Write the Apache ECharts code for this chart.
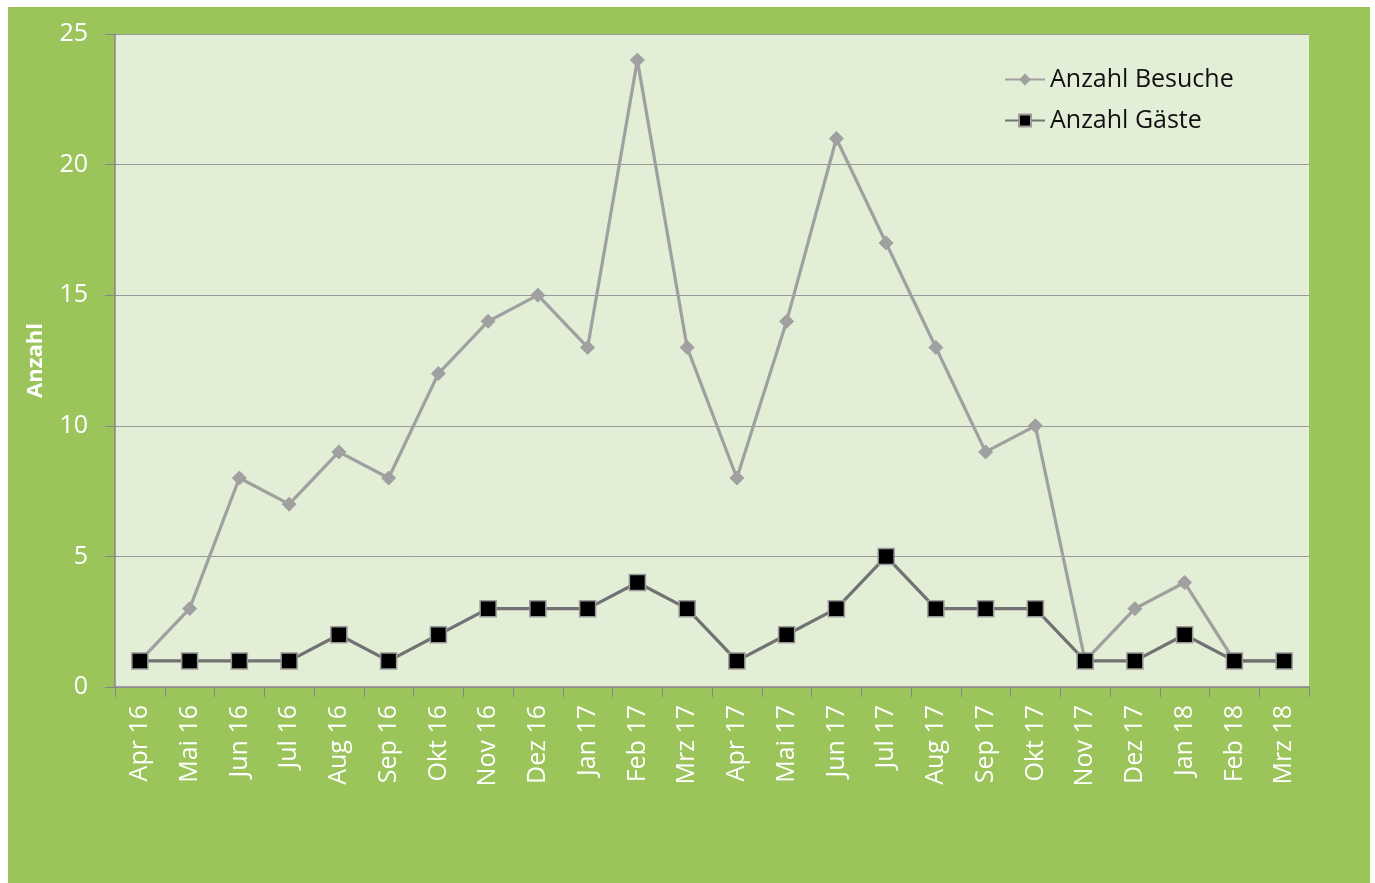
<!DOCTYPE html>
<html>
<head>
<meta charset="utf-8">
<script src="https://cdn.jsdelivr.net/npm/echarts@6/dist/echarts.min.js"></script>
<style>
html, body { margin: 0; padding: 0; background: #ffffff; }
#main { position: absolute; left: 8px; top: 7px; width: 1362px; height: 876px; }
</style>
</head>
<body>
<div id="main"></div>
<script>
// Monate
var months = ["Apr 16", "Mai 16", "Jun 16", "Jul 16", "Aug 16", "Sep 16", "Okt 16", "Nov 16", "Dez 16",
	"Jan 17", "Feb 17", "Mrz 17", "Apr 17", "Mai 17", "Jun 17", "Jul 17", "Aug 17", "Sep 17", "Okt 17",
	"Nov 17", "Dez 17", "Jan 18", "Feb 18", "Mrz 18"];
var besuche = [1, 3, 8, 7, 9, 8, 12, 14, 15, 13, 24, 13, 8, 14, 21, 17, 13, 9, 10, 1, 3, 4, 1, 1];
var gaeste = [1, 1, 1, 1, 2, 1, 2, 3, 3, 3, 4, 3, 1, 2, 3, 5, 3, 3, 3, 1, 1, 2, 1, 1];

var font = "Open Sans";
var chart = echarts.init(document.getElementById('main'));

var option = {
	backgroundColor: "#9bc45a",
	animation: false,
	textStyle: { fontFamily: font },
	grid: {
		left: 107, right: 61, top: 27, bottom: 196,
		show: true,
		backgroundColor: "#e2eed6",
		borderWidth: 0
	},
	legend: {
		orient: "vertical",
		left: 991, top: 55,
		itemWidth: 40, itemHeight: 15, itemGap: 16,
		textStyle: { color: "#111111", fontSize: 25, fontFamily: font },
		data: ["Anzahl Besuche", "Anzahl Gäste"]
	},
	xAxis: {
		type: "category",
		data: months,
		boundaryGap: true,
		axisLine: { lineStyle: { color: "#888888", width: 1.5 } },
		axisTick: { show: true, interval: 0, length: 10, lineStyle: { color: "#888888" } },
		axisLabel: { rotate: 90, interval: 0, color: "#ffffff", fontSize: 25, margin: 18 }
	},
	yAxis: {
		type: "value",
		min: 0, max: 25, interval: 5,
		name: "Anzahl",
		nameLocation: "middle",
		nameGap: 68,
		nameTextStyle: { color: "#ffffff", fontSize: 22, fontWeight: "bold" },
		axisLine: { show: true, lineStyle: { color: "#888888", width: 1.5 } },
		axisTick: { show: true, length: 10, lineStyle: { color: "#888888" } },
		axisLabel: { color: "#ffffff", fontSize: 25, margin: 27 },
		splitLine: { lineStyle: { color: "#999999", width: 1 } }
	},
	series: [
		{
			name: "Anzahl Besuche",
			type: "line",
			data: besuche,
			symbol: "diamond",
			symbolSize: 14,
			lineStyle: { color: "#a0a0a0", width: 3.2 },
			itemStyle: { color: "#a0a0a0", borderColor: "#a0a0a0" },
			z: 2
		},
		{
			name: "Anzahl Gäste",
			type: "line",
			data: gaeste,
			symbol: "rect",
			symbolSize: 16,
			lineStyle: { color: "#727272", width: 3.2 },
			itemStyle: { color: "#000000", borderColor: "#9a9a9a", borderWidth: 1.5 },
			z: 3
		}
	]
};
chart.setOption(option);
</script>
</body>
</html>
